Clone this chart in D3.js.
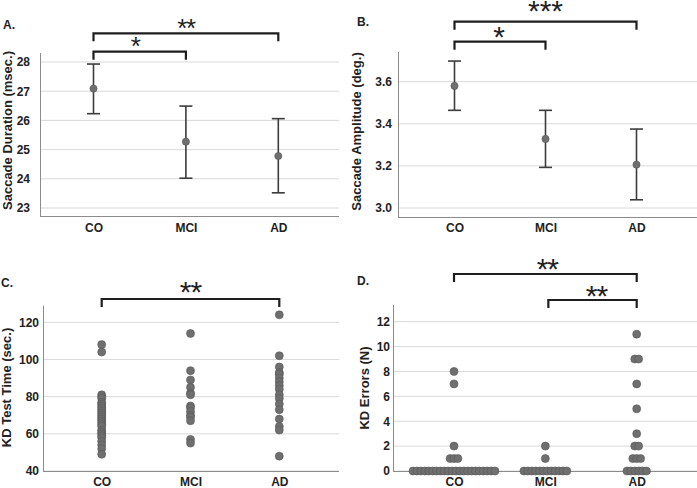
<!DOCTYPE html>
<html>
<head>
<meta charset="utf-8">
<script src="https://cdn.jsdelivr.net/npm/d3@7"></script>
<style>
  html, body { margin: 0; padding: 0; background: #fff; }
  svg { display: block; }
  text { font-family: "Liberation Sans", Arial, sans-serif; }
</style>
</head>
<body>
<svg id="chart" width="697" height="488"></svg>
<script>
// ---------------- DATA ----------------
const categories = ["CO", "MCI", "AD"];

// A. Saccade duration (msec.): mean and error-bar limits
const durMean = [27.09, 25.27, 24.78];
const durLow  = [26.23, 24.02, 23.52];
const durHigh = [27.93, 26.49, 26.06];
const durTicks = [23, 24, 25, 26, 27, 28];

// B. Saccade amplitude (deg.)
const ampMean = [3.580, 3.328, 3.206];
const ampLow  = [3.464, 3.193, 3.039];
const ampHigh = [3.698, 3.464, 3.375];
const ampTicks = [3.0, 3.2, 3.4, 3.6];

// C. KD test time (sec.), individual subjects
const kdTimeCO  = [108, 104, 81, 80, 79, 77, 76, 75, 74, 73, 72, 71, 70, 69,
                   68, 67, 66, 65, 64, 62, 61, 60, 59, 58, 56, 54, 52, 49];
const kdTimeMCI = [114, 94, 89, 85, 82, 81, 75, 74, 72, 70, 69, 67, 57, 55];
const kdTimeAD  = [124, 102, 96, 93, 92, 90, 88, 86, 84, 81, 79, 76, 73, 68, 64, 62, 48];
const timeTicks = [40, 60, 80, 100, 120];

// D. KD errors (N), individual subjects
const kdErrCO  = [0, 0, 0, 0, 0, 0, 0, 0, 0, 0, 0, 0, 0, 0, 0, 0, 0, 0, 0, 0, 0, 0,
                  1, 1, 1, 2, 7, 8];
const kdErrMCI = [0, 0, 0, 0, 0, 0, 0, 0, 0, 0, 0, 0, 1, 2];
const kdErrAD  = [0, 0, 0, 0, 0, 0, 1, 1, 1, 2, 2, 3, 5, 7, 9, 9, 11];
const errTicks = [0, 2, 4, 6, 8, 10, 12];

// significance comparisons [from, to, stars]
const sigA = [["CO", "AD", "**"], ["CO", "MCI", "*"]];
const sigB = [["CO", "AD", "***"], ["CO", "MCI", "*"]];
const sigC = [["CO", "AD", "**"]];
const sigD = [["CO", "AD", "**"], ["MCI", "AD", "**"]];

// ---------------- DRAWING ----------------
const svg = d3.select("#chart");
const FONT = '"Liberation Sans", Arial, sans-serif';
const STAR_FONT = '"DejaVu Sans", sans-serif';
const GRID = "#d9d9d9", AXIS = "#8c8c8c", TXT = "#222";
const DOT = "#6f6f6f", DOT_STROKE = "#575757";

function drawPanel(cfg) {
  const g = svg.append("g");
  const x = d3.scalePoint().domain(categories).range(cfg.xRange);
  const y = d3.scaleLinear().domain(cfg.yDomain).range(cfg.yRange);

  // grid lines
  g.selectAll(".grid").data(cfg.ticks).join("line")
    .attr("x1", cfg.axisLeft).attr("x2", cfg.axisRight)
    .attr("y1", d => y(d)).attr("y2", d => y(d))
    .attr("stroke", GRID).attr("stroke-width", 1);

  // y axis (labels only, via d3.axisLeft)
  const yAxis = d3.axisLeft(y).tickValues(cfg.ticks).tickFormat(cfg.fmt)
    .tickSize(0).tickPadding(cfg.tickPad);
  const ya = g.append("g").attr("transform", `translate(${cfg.axisLeft},0)`).call(yAxis);
  ya.select(".domain").remove();
  ya.selectAll("text").attr("font-family", FONT).attr("font-size", 12)
    .attr("font-weight", "bold").attr("fill", TXT);

  // axis lines
  g.append("line").attr("x1", cfg.axisLeft + 0.5).attr("x2", cfg.axisLeft + 0.5)
    .attr("y1", cfg.axisTop).attr("y2", cfg.axisBottom)
    .attr("stroke", AXIS).attr("stroke-width", 1);
  g.append("line").attr("x1", cfg.axisLeft).attr("x2", cfg.axisRight)
    .attr("y1", cfg.axisBottom + 0.5).attr("y2", cfg.axisBottom + 0.5)
    .attr("stroke", AXIS).attr("stroke-width", 1);

  // x axis labels
  const xAxis = d3.axisBottom(x).tickSize(0).tickPadding(0);
  const xa = g.append("g").attr("transform", `translate(0,${cfg.xLabelY})`).call(xAxis);
  xa.select(".domain").remove();
  xa.selectAll("text").attr("font-family", FONT).attr("font-size", 12)
    .attr("font-weight", "bold").attr("fill", TXT).attr("dy", 0);

  // y title
  g.append("text")
    .attr("transform", `translate(${cfg.titleX},${cfg.titleY}) rotate(-90)`)
    .attr("text-anchor", "middle").attr("font-family", FONT)
    .attr("font-size", 13).attr("font-weight", "bold").attr("fill", TXT)
    .text(cfg.title);

  // panel letter
  g.append("text").attr("x", cfg.letterX).attr("y", cfg.letterY)
    .attr("font-family", FONT).attr("font-size", 12).attr("font-weight", "bold")
    .attr("fill", TXT).text(cfg.letter);

  // marks
  if (cfg.means) {
    const rows = categories.map((c, i) => ({ c, m: cfg.means[i], lo: cfg.lows[i], hi: cfg.highs[i] }));
    const eb = g.selectAll(".eb").data(rows).join("g");
    eb.append("line").attr("x1", d => x(d.c)).attr("x2", d => x(d.c))
      .attr("y1", d => y(d.lo)).attr("y2", d => y(d.hi))
      .attr("stroke", "#3c3c3c").attr("stroke-width", 1.6);
    [d => d.lo, d => d.hi].forEach(acc => {
      eb.append("line").attr("x1", d => x(d.c) - 6.5).attr("x2", d => x(d.c) + 6.5)
        .attr("y1", d => y(acc(d))).attr("y2", d => y(acc(d)))
        .attr("stroke", "#3c3c3c").attr("stroke-width", 1.6);
    });
    eb.append("circle").attr("cx", d => x(d.c)).attr("cy", d => y(d.m)).attr("r", 3.6)
      .attr("fill", DOT).attr("stroke", DOT_STROKE).attr("stroke-width", 0.6);
  }
  if (cfg.points) {
    const pts = [];
    categories.forEach((c, i) => {
      const vals = cfg.points[i];
      const counts = d3.rollup(vals, v => v.length, v => v);
      const seen = new Map();
      vals.forEach(v => {
        const n = cfg.spread ? counts.get(v) : 1;
        const k = seen.get(v) || 0; seen.set(v, k + 1);
        const off = cfg.spread ? (k - (n - 1) / 2) * cfg.spread : 0;
        pts.push({ c, v, off });
      });
    });
    g.selectAll(".pt").data(pts).join("circle")
      .attr("cx", d => x(d.c) + d.off).attr("cy", d => y(d.v)).attr("r", 4)
      .attr("fill", DOT).attr("stroke", DOT_STROKE).attr("stroke-width", 0.6);
  }

  // significance brackets
  cfg.sig.forEach((s, i) => {
    const by = cfg.bracketY[i];
    const x1 = x(s[0]) + (cfg.bracketShift ? cfg.bracketShift[i] : 0), x2 = x(s[1]);
    g.append("path")
      .attr("d", `M${x1},${by + 8}V${by}H${x2}V${by + 8}`)
      .attr("fill", "none").attr("stroke", "#1e1e1e").attr("stroke-width", 2.2);
    g.append("text").attr("x", (x1 + x2) / 2 + (cfg.starDx ? cfg.starDx[i] : 0))
      .attr("y", cfg.starY[i])
      .attr("text-anchor", "middle").attr("font-family", STAR_FONT)
      .attr("font-size", cfg.starSize[i]).attr("fill", "#222")
      .attr("letter-spacing", cfg.starSpacing ? cfg.starSpacing[i] : 0)
      .text(s[2]);
  });
}

drawPanel({
  letter: "A.", letterX: 3, letterY: 28.5,
  title: "Saccade Duration (msec.)", titleX: 11.5, titleY: 130.5,
  xRange: [93.5, 278.3], yDomain: [23, 28], yRange: [208, 62],
  axisLeft: 40, axisRight: 339, axisTop: 53, axisBottom: 216,
  ticks: durTicks, fmt: d3.format("d"), tickPad: 10, xLabelY: 232,
  means: durMean, lows: durLow, highs: durHigh,
  sig: sigA, bracketY: [33.3, 51.7], starY: [37, 55], starSize: [26, 26],
  starDx: [0, -4], starSpacing: [-1.5, 0]
});

drawPanel({
  letter: "B.", letterX: 357, letterY: 26,
  title: "Saccade Amplitude (deg.)", titleX: 360.5, titleY: 131.5,
  xRange: [454.5, 636.5], yDomain: [3.0, 3.6], yRange: [208, 81.7],
  axisLeft: 398, axisRight: 697, axisTop: 52, axisBottom: 217,
  ticks: ampTicks, fmt: d3.format(".1f"), tickPad: 6, xLabelY: 232,
  means: ampMean, lows: ampLow, highs: ampHigh,
  sig: sigB, bracketY: [21.7, 41.7], starY: [21, 47], starSize: [30, 30], starDx: [0, -1],
  starSpacing: [0, 0]
});

drawPanel({
  letter: "C.", letterX: 1, letterY: 286.7,
  title: "KD Test Time (sec.)", titleX: 11, titleY: 387.5,
  xRange: [101.7, 279.3], yDomain: [40, 120], yRange: [471, 322.3],
  axisLeft: 43, axisRight: 339, axisTop: 305.7, axisBottom: 471,
  ticks: timeTicks, fmt: d3.format("d"), tickPad: 4, xLabelY: 486,
  points: [kdTimeCO, kdTimeMCI, kdTimeAD],
  sig: sigC, bracketY: [299], starY: [302], starSize: [30], starSpacing: [-1]
});

drawPanel({
  letter: "D.", letterX: 357, letterY: 285,
  title: "KD Errors (N)", titleX: 368.5, titleY: 388,
  xRange: [454, 636.7], yDomain: [0, 12], yRange: [471, 321.7],
  axisLeft: 393, axisRight: 697, axisTop: 305, axisBottom: 471,
  ticks: errTicks, fmt: d3.format("d"), tickPad: 3, xLabelY: 486,
  points: [kdErrCO, kdErrMCI, kdErrAD], spread: 3.9,
  sig: sigD, bracketY: [274, 300], bracketShift: [0, 3], starY: [279, 305.5],
  starSize: [30, 30], starSpacing: [-1, -1], starDx: [2, 4]
});
</script>
</body>
</html>
